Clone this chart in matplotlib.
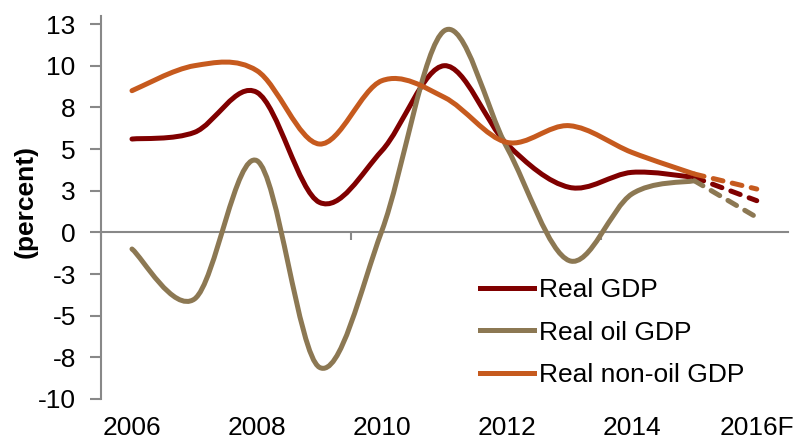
import numpy as np
import matplotlib.pyplot as plt
from matplotlib.path import Path
from matplotlib.patches import PathPatch
from matplotlib.lines import Line2D

plt.rcParams['font.family'] = ['Liberation Sans', 'DejaVu Sans']

##################################################################
## Data ##########################################################
##################################################################

years = ['2006', '2007', '2008', '2009', '2010', '2011',
         '2012', '2013', '2014', '2015', '2016F']
real_gdp = [5.6, 6.0, 8.4, 1.8, 4.9, 10.0, 5.3, 2.7, 3.6, 3.3, 1.9]
oil_gdp = [-1.0, -4.0, 4.3, -8.1, 0.1, 12.1, 5.1, -1.7, 2.3, 3.1, 0.9]
nonoil_gdp = [8.5, 10.0, 9.7, 5.3, 9.1, 8.1, 5.4, 6.4, 4.8, 3.5, 2.6]

names = ['Real GDP', 'Real oil GDP', 'Real non-oil GDP']
colors = ['#800000', '#8C7853', '#C65A1E']

ytick_vals = np.arange(-10, 12.6, 2.5)
ytick_labels = ['-10', '-8', '-5', '-3', '0', '3', '5', '8', '10', '13']

##################################################################
## Functions #####################################################
##################################################################

def smooth_path(xs, ys):
    # Excel style smoothed line -> cubic bezier segments
    pts = np.column_stack([xs, ys]).astype(float)
    n = len(pts)
    verts = [pts[0]]
    codes = [Path.MOVETO]
    for i in range(n - 1):
        p0 = pts[i - 1] if i > 0 else pts[i]
        p1 = pts[i]
        p2 = pts[i + 1]
        p3 = pts[i + 2] if i + 2 < n else pts[i + 1]
        verts += [p1 + (p2 - p0) / 6, p2 - (p3 - p1) / 6, p2]
        codes += [Path.CURVE4] * 3
    return Path(verts, codes)

##################################################################
## Main ##########################################################
##################################################################

fs = 19
fig = plt.figure(figsize=(7.97, 4.41), dpi=100)
ax = fig.add_axes([100.75 / 797, 42 / 441, 687.25 / 797, 383.3 / 441])

x = np.arange(len(years))
lw = 3.6
n_act = len(years) - 1  # last point is forecast

for vals, c in zip([real_gdp, oil_gdp, nonoil_gdp], colors):
    p = smooth_path(x[:n_act], vals[:n_act])
    ax.add_patch(PathPatch(p, fill=False, edgecolor=c, lw=lw,
                           capstyle='round', joinstyle='round'))
    ax.plot(x[n_act - 1:], vals[n_act - 1:], color=c, lw=lw,
            ls=(0, (2.0, 1.9)), dash_capstyle='round')

ax.set_xlim(-0.5, len(years) - 0.5)
ax.set_ylim(-10, 13)

# y axis
ax.set_yticks(ytick_vals)
ax.set_yticklabels(ytick_labels)
ax.tick_params(axis='y', direction='out', length=8, width=1.5,
               color='#888888', labelsize=fs, pad=10)
for s in ['top', 'right', 'bottom']:
    ax.spines[s].set_visible(False)
ax.spines['left'].set_color('#888888')
ax.spines['left'].set_linewidth(1.5)

# category labels at the bottom
ax.set_xticks(x[::2])
ax.set_xticklabels(years[::2])
ax.tick_params(axis='x', length=0, labelsize=fs, pad=12)

# horizontal axis line at zero
sec = ax.secondary_xaxis(0, transform=ax.transData)
sec.set_xticks([-0.5, 3.5, 7.5])
sec.set_xticklabels([])
sec.tick_params(direction='out', length=6, width=1.5, color='#888888')
sec.spines['bottom'].set_color('#888888')
sec.spines['bottom'].set_linewidth(1.5)

ax.set_ylabel('(percent)', fontsize=fs, fontweight='bold')
ax.yaxis.set_label_coords(-0.092, 0.515)

handles = [Line2D([], [], color=c, lw=lw) for c in colors]
ax.legend(handles, names, loc='upper left', bbox_to_anchor=(0.552, 0.315),
          frameon=False, fontsize=fs, handlelength=2.05, handletextpad=0.2,
          labelspacing=0.7, borderpad=0, borderaxespad=0)

fig.savefig('out.png', dpi=100)
